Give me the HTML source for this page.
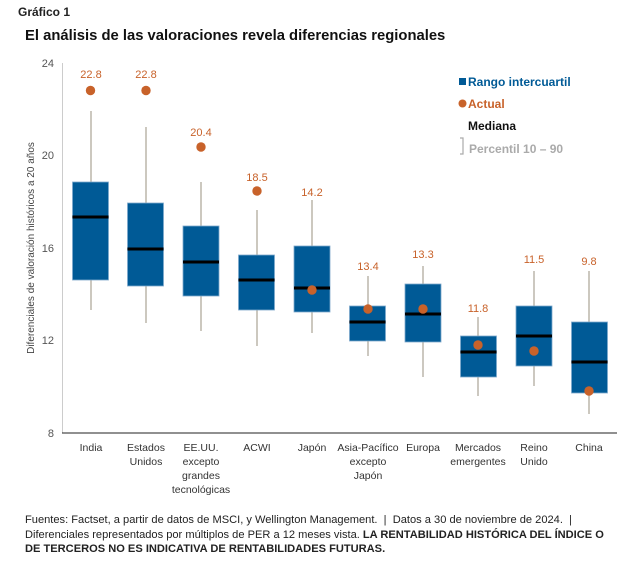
<!DOCTYPE html><html><head><meta charset="utf-8"><style>
body{margin:0;background:#fff;width:639px;height:561px;overflow:hidden;font-family:"Liberation Sans",sans-serif}
.foot{position:absolute;left:25px;top:513px;font-size:11.1px;line-height:14.5px;color:#222;width:620px;white-space:nowrap}
</style></head><body>
<svg width="639" height="561" style="position:absolute;left:0;top:0" font-family="Liberation Sans, sans-serif">
<text x="18" y="16" font-size="12" font-weight="bold" fill="#222">Gráfico 1</text>
<text x="25" y="40" font-size="14.8" font-weight="bold" fill="#111">El análisis de las valoraciones revela diferencias regionales</text>
<line x1="62.5" y1="63" x2="62.5" y2="433" stroke="#ccc"/>
<line x1="62" y1="433" x2="617" y2="433" stroke="#222"/>
<g font-size="11" fill="#555" text-anchor="end">
<text x="54" y="67">24</text><text x="54" y="159">20</text><text x="54" y="252">16</text><text x="54" y="344">12</text><text x="54" y="437">8</text></g>
<text transform="translate(34,248) rotate(-90)" font-size="10" fill="#444" text-anchor="middle">Diferenciales de valoración históricos a 20 años</text>
<g font-size="11" fill="#c8622a" text-anchor="middle">
<text x="91" y="78">22.8</text><text x="146" y="78">22.8</text><text x="201" y="136">20.4</text><text x="257" y="181">18.5</text><text x="312" y="196">14.2</text><text x="368" y="270">13.4</text><text x="423" y="258">13.3</text><text x="478" y="312">11.8</text><text x="534" y="263">11.5</text><text x="589" y="265">9.8</text></g>
<g stroke="#bbb5aa" stroke-width="1.5">
<line x1="91" y1="111" x2="91" y2="310"/><line x1="146" y1="127" x2="146" y2="323"/><line x1="201" y1="182" x2="201" y2="331"/><line x1="257" y1="210" x2="257" y2="346"/><line x1="312" y1="200" x2="312" y2="333"/><line x1="368" y1="276" x2="368" y2="356"/><line x1="423" y1="266" x2="423" y2="377"/><line x1="478" y1="317" x2="478" y2="396"/><line x1="534" y1="271" x2="534" y2="386"/><line x1="589" y1="271" x2="589" y2="414"/></g>
<g fill="#005a96" stroke="#7fa9cc" stroke-width="0.8">
<rect x="72.5" y="182" width="36" height="98"/><rect x="127.5" y="203" width="36" height="83"/><rect x="183" y="226" width="36" height="70"/><rect x="238.5" y="255" width="36" height="55"/><rect x="294" y="246" width="36" height="66"/><rect x="349.5" y="306" width="36" height="35"/><rect x="405" y="284" width="36" height="58"/><rect x="460.5" y="336" width="36" height="41"/><rect x="516" y="306" width="36" height="60"/><rect x="571.5" y="322" width="36" height="71"/></g>
<g stroke="#000" stroke-width="3">
<line x1="72.5" x2="108.5" y1="217" y2="217"/><line x1="127.5" x2="163.5" y1="249" y2="249"/><line x1="183" x2="219" y1="262" y2="262"/><line x1="238.5" x2="274.5" y1="280" y2="280"/><line x1="294" x2="330" y1="288" y2="288"/><line x1="349.5" x2="385.5" y1="322" y2="322"/><line x1="405" x2="441" y1="314" y2="314"/><line x1="460.5" x2="496.5" y1="352" y2="352"/><line x1="516" x2="552" y1="336" y2="336"/><line x1="571.5" x2="607.5" y1="362" y2="362"/></g>
<g fill="#c8622a">
<circle cx="90.5" cy="90.5" r="4.7"/><circle cx="146" cy="90.5" r="4.7"/><circle cx="201" cy="147" r="4.7"/><circle cx="257" cy="191" r="4.7"/><circle cx="312" cy="290" r="4.7"/><circle cx="368" cy="309" r="4.7"/><circle cx="423" cy="309" r="4.7"/><circle cx="478" cy="345" r="4.7"/><circle cx="534" cy="351" r="4.7"/><circle cx="589" cy="391" r="4.7"/></g>
<g font-size="10.5" fill="#333" text-anchor="middle">
<text x="91" y="451">India</text>
<text x="146" y="451">Estados</text><text x="146" y="465">Unidos</text>
<text x="201" y="451">EE.UU.</text><text x="201" y="465">excepto</text><text x="201" y="479">grandes</text><text x="201" y="493">tecnológicas</text>
<text x="257" y="451">ACWI</text><text x="312" y="451">Japón</text>
<text x="368" y="451">Asia-Pacífico</text><text x="368" y="465">excepto</text><text x="368" y="479">Japón</text>
<text x="423" y="451">Europa</text>
<text x="478" y="451">Mercados</text><text x="478" y="465">emergentes</text>
<text x="534" y="451">Reino</text><text x="534" y="465">Unido</text>
<text x="589" y="451">China</text></g>
<rect x="459" y="78" width="7" height="7" fill="#005a96"/>
<text x="468" y="86" font-size="12" font-weight="bold" fill="#005a96">Rango intercuartil</text>
<circle cx="462.5" cy="103.5" r="4" fill="#c8622a"/>
<text x="468" y="108" font-size="12" font-weight="bold" fill="#c8622a">Actual</text>
<text x="468" y="130" font-size="12" font-weight="bold" fill="#111">Mediana</text>
<path d="M460 138h3v16h-3" fill="none" stroke="#aaa" stroke-width="1.2"/>
<text x="469" y="153" font-size="12" font-weight="bold" fill="#aaa">Percentil 10 – 90</text>
</svg>
<div class="foot">Fuentes: Factset, a partir de datos de MSCI, y Wellington Management. &nbsp;|&nbsp; Datos a 30 de noviembre de 2024. &nbsp;|<br>Diferenciales representados por múltiplos de PER a 12 meses vista. <b>LA RENTABILIDAD HISTÓRICA DEL ÍNDICE O</b><br><b>DE TERCEROS NO ES INDICATIVA DE RENTABILIDADES FUTURAS.</b></div>
</body></html>
